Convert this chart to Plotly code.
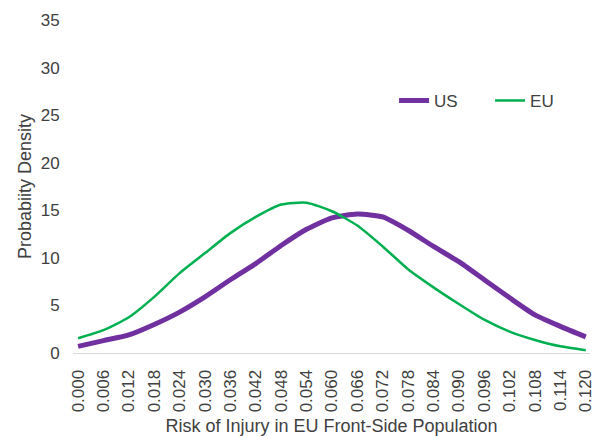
import plotly.graph_objects as go

risk = [0.000, 0.006, 0.012, 0.018, 0.024, 0.030, 0.036, 0.042, 0.048, 0.054, 0.060,
        0.066, 0.072, 0.078, 0.084, 0.090, 0.096, 0.102, 0.108, 0.114, 0.120]
tick_labels = [f"{v:.3f}" for v in risk]
us_density = [0.7, 1.3, 1.9, 3.0, 4.3, 5.9, 7.7, 9.4, 11.3, 13.0, 14.2,
              14.6, 14.3, 12.9, 11.2, 9.6, 7.7, 5.8, 4.0, 2.8, 1.7]
eu_density = [1.55, 2.4, 3.75, 5.9, 8.4, 10.5, 12.6, 14.3, 15.6, 15.8, 14.9,
              13.4, 11.2, 8.8, 6.9, 5.15, 3.5, 2.25, 1.37, 0.7, 0.3]

fig = go.Figure()
fig.add_trace(go.Scatter(x=risk, y=us_density, name="US", mode="lines",
                         line=dict(color="#7030A0", width=5, shape="spline", smoothing=0.6)))
fig.add_trace(go.Scatter(x=risk, y=eu_density, name="EU", mode="lines",
                         line=dict(color="#00B050", width=2.5, shape="spline", smoothing=0.6)))

font_fam = "Liberation Sans, Arial, sans-serif"
# page body has an 8px default margin, so the figure is sized/offset to compensate
fig.update_layout(
    width=594, height=428,
    margin=dict(l=65, r=12, t=12, b=83),
    paper_bgcolor="white", plot_bgcolor="white",
    font=dict(family=font_fam, color="#404040", size=17),
    showlegend=True,
    legend=dict(orientation="h", x=0.621, y=0.757, xanchor="left", yanchor="middle",
                font=dict(size=17, color="#404040"), bgcolor="rgba(0,0,0,0)",
                entrywidth=51, entrywidthmode="pixels", tracegroupgap=0),
    xaxis=dict(
        range=[-0.0012, 0.1210], automargin=False,
        tickmode="array", tickvals=risk, ticktext=tick_labels,
        tickangle=-90, tickfont=dict(size=17),
        showgrid=False, zeroline=False,
        showline=True, linecolor="#D9D9D9", linewidth=1,
        ticks="outside", ticklen=9, tickcolor="rgba(0,0,0,0)",
        title=dict(text="Risk of Injury in EU Front-Side Population", font=dict(size=18), standoff=8),
    ),
    yaxis=dict(
        range=[0, 35], tickmode="linear", tick0=0, dtick=5, automargin=False,
        tickfont=dict(size=17),
        showgrid=False, zeroline=False, showline=False,
        ticks="outside", ticklen=9, tickcolor="rgba(0,0,0,0)",
        title=dict(text="Probabiity Density", font=dict(size=18), standoff=4),
    ),
)

fig.write_html("out.html")
